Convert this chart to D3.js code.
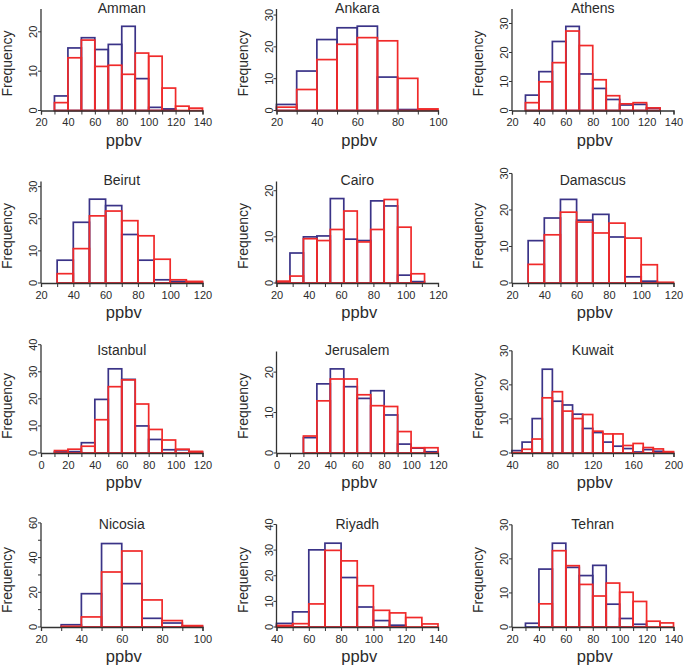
<!DOCTYPE html>
<html>
<head>
<meta charset="utf-8">
<script src="https://cdn.jsdelivr.net/npm/d3@7"></script>
<style>
  html, body { margin: 0; padding: 0; background: #fff; }
  svg { display: block; font-family: "Liberation Sans", Arial, Helvetica, sans-serif; }
</style>
</head>
<body>
<svg id="chart" width="685" height="667"></svg>
<script>
// ---------------- DATA ----------------
const cities = ["Amman","Ankara","Athens","Beirut","Cairo","Damascus","Istanbul","Jerusalem","Kuwait","Nicosia","Riyadh","Tehran"];
const xDomains = [[20,140],[20,100],[20,140],[20,120],[20,120],[20,120],[0,120],[0,120],[40,200],[20,100],[40,140],[20,140]];
const xTickSteps = [10,10,10,10,10,10,10,10,20,10,10,10];
const xLabelSteps = [20,20,20,20,20,20,20,20,40,20,20,20];
const binStarts = [30,20,30,30,20,30,10,20,40,30,40,30];
const binWidths = [10,10,10,10,100/12,10,10,10,10,10,10,10];
const yLimits = [25.8,31.9,35.0,31.6,22.0,27.8,37.5,25.1,29.8,58.5,39.6,29.8];
const yTickMax = [20,30,30,30,20,30,40,20,30,60,40,30];
const yTickStep = 10;

// blue (navy) series, counts per bin
const ammanBlue     = [3.7,15.9,18.5,15.5,16.8,21.4,8.1,0.8,0.4,0,0];
const ankaraBlue    = [1.9,12.4,22.3,26.0,26.5,10.5,0.3,0];
const athensBlue    = [5.3,13.4,23.8,29.0,12.6,7.6,3.8,1.9,2.1,0.8];
const beirutBlue    = [7.1,18.9,26.1,24.1,15.1,7.1,1.0,0.5,0.3];
const cairoBlue     = [0.2,6.5,10.0,10.2,18.3,9.5,9.2,17.8,16.7,1.7,0.3,0];
const damascusBlue  = [11.6,17.8,22.9,17.2,18.8,12.6,1.7,0.5,0];
const istanbulBlue  = [0.4,0.5,3.8,19.8,31.1,27.2,10.0,5.0,1.2,1.2,0.4];
const jerusalemBlue = [3.8,17.1,20.8,16.4,13.5,15.4,9.4,2.2,1.2,0.3];
const kuwaitBlue    = [0.7,3.2,10.1,24.6,15.2,14.1,11.4,7.2,6.0,3.2,2.0,1.3,0.3,1.0,0.5,0.2];
const nicosiaBlue   = [1.3,19.2,48.1,25.0,5.0,2.3,0.4];
const riyadhBlue    = [1.4,5.9,30.1,32.7,19.3,7.8,2.5,0.7,0,0];
const tehranBlue    = [1.1,17.0,24.6,17.5,15.1,18.1,6.7,2.5,0.8,0,0];

// red series, counts per bin
const ammanRed     = [2.0,13.4,17.9,11.2,11.5,9.2,14.6,13.8,5.7,1.1,0.6];
const ankaraRed    = [1.05,6.6,16.0,20.8,22.9,21.9,10.1,0.5];
const athensRed    = [2.7,9.9,16.5,27.4,22.4,10.6,5.1,2.3,2.7,0.9];
const beirutRed    = [2.9,10.7,20.9,22.4,19.4,14.7,7.4,1.0,0.5];
const cairoRed     = [0.4,1.5,9.6,9.2,11.6,15.6,8.9,11.6,18.1,12.1,2.0,0];
const damascusRed  = [5.1,13.2,19.4,16.7,13.7,16.4,12.3,5.0,0.2];
const istanbulRed  = [0.9,1.4,2.5,12.3,24.5,27.0,18.1,8.7,4.8,1.4,0.6];
const jerusalemRed = [4.2,12.9,18.3,18.3,14.4,11.7,11.5,5.3,1.3,1.3];
const kuwaitRed    = [0.1,1.1,4.1,16.2,18.0,12.3,10.1,11.3,6.4,5.6,5.6,2.2,2.8,1.6,1.2,0.4];
const nicosiaRed   = [0.4,5.8,31.7,43.8,15.6,3.7,0.8];
const riyadhRed    = [0.6,1.3,9.0,29.9,25.8,16.1,6.5,5.5,3.7,1.2];
const tehranRed    = [0,6.8,22.4,18.0,12.5,9.1,12.9,10.2,7.5,1.7,1.2];

const blueSeries = [ammanBlue,ankaraBlue,athensBlue,beirutBlue,cairoBlue,damascusBlue,istanbulBlue,jerusalemBlue,kuwaitBlue,nicosiaBlue,riyadhBlue,tehranBlue];
const redSeries  = [ammanRed,ankaraRed,athensRed,beirutRed,cairoRed,damascusRed,istanbulRed,jerusalemRed,kuwaitRed,nicosiaRed,riyadhRed,tehranRed];

// ---------------- LAYOUT ----------------
const colX = [41, 276.5, 512];
const rowY0 = [110.5, 283, 453, 627];
const plotW = 161.5, plotH = 101.5;
const BLUE = "#3a3387", RED = "#f02a2a", AXIS = "#333", TEXT = "#2b2b2b";

const svg = d3.select("#chart");

cities.forEach((city, i) => {
  const cx = colX[i % 3], y0 = rowY0[Math.floor(i / 3)];
  const x = d3.scaleLinear().domain(xDomains[i]).range([cx, cx + plotW]);
  const y = d3.scaleLinear().domain([0, yLimits[i]]).range([y0, y0 - plotH]);
  const g = svg.append("g");

  const bins = (arr) => arr.map((v, k) => ({x0: binStarts[i] + k * binWidths[i], x1: binStarts[i] + (k + 1) * binWidths[i], v}));

  [[blueSeries[i], BLUE], [redSeries[i], RED]].forEach(([arr, col]) => {
    g.append("g").selectAll("rect").data(bins(arr)).join("rect")
      .attr("x", d => x(d.x0))
      .attr("y", d => y(d.v))
      .attr("width", d => x(d.x1) - x(d.x0))
      .attr("height", d => y(0) - y(d.v))
      .attr("fill", "none")
      .attr("stroke", col)
      .attr("stroke-width", 1.7);
  });

  // x axis on baseline
  const [xa, xb] = xDomains[i];
  const xt = d3.range(xa, xb + 0.001, xTickSteps[i]);
  const xAxis = d3.axisBottom(x).tickValues(xt).tickSize(4).tickPadding(4)
    .tickFormat(v => ((v - xa) % xLabelSteps[i] === 0) ? d3.format("d")(v) : "");
  const gx = g.append("g").attr("transform", `translate(0,${y0})`).call(xAxis);
  gx.select(".domain").attr("stroke", AXIS).attr("stroke-width", 1.3);
  gx.selectAll(".tick line").attr("stroke", AXIS);
  gx.selectAll("text").attr("font-size", 11).attr("fill", TEXT)
    .attr("font-family", "Liberation Sans, Arial, sans-serif");

  // y axis
  const yt = d3.range(0, yTickMax[i] + 0.001, yTickStep);
  const spacing = y(0) - y(yTickStep);
  const yLabelEvery = spacing < 20 ? 2 : 1;
  const yTop = Math.max(yLimits[i], yTickMax[i]);
  g.append("line").attr("x1", cx).attr("x2", cx).attr("y1", y0).attr("y2", y(yTop))
    .attr("stroke", AXIS).attr("stroke-width", 1.3);
  g.append("g").selectAll("line").data(yt).join("line")
    .attr("x1", cx - 3).attr("x2", cx).attr("y1", d => y(d)).attr("y2", d => y(d))
    .attr("stroke", AXIS);
  g.append("g").selectAll("text").data(yt.filter((d, k) => k % yLabelEvery === 0)).join("text")
    .attr("transform", d => `translate(${cx - 4},${y(d)}) rotate(-90)`)
    .attr("text-anchor", "middle")
    .attr("font-size", 11).attr("fill", TEXT)
    .text(d => d3.format("d")(d));

  // titles and labels
  g.append("text").attr("x", cx + plotW / 2).attr("y", y0 - 98)
    .attr("text-anchor", "middle").attr("font-size", 14).attr("fill", TEXT).text(city);
  g.append("text").attr("transform", `translate(${cx - 29},${y0 - 47}) rotate(-90)`)
    .attr("text-anchor", "middle").attr("font-size", 14).attr("fill", TEXT).text("Frequency");
  g.append("text").attr("x", cx + plotW / 2 + 2).attr("y", y0 + 35)
    .attr("text-anchor", "middle").attr("font-size", 16.5).attr("fill", TEXT).text("ppbv");
});
</script>
</body>
</html>
